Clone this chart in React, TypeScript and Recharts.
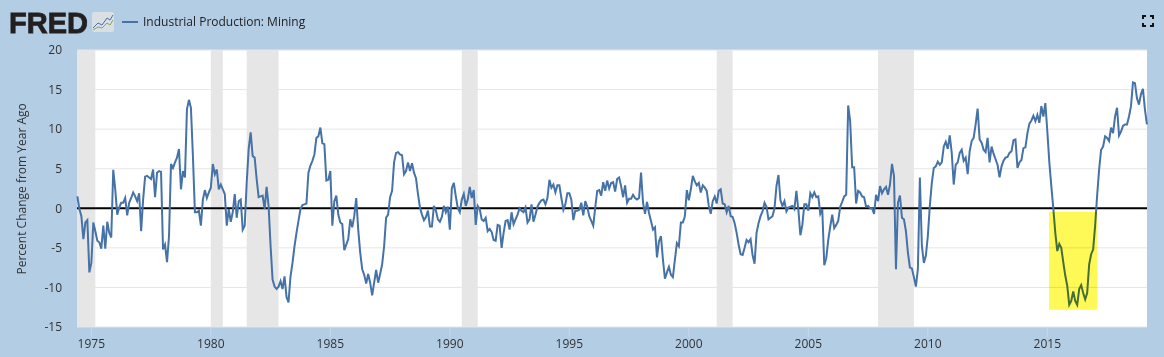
import React from 'react';
import { ComposedChart, Line, XAxis, YAxis, CartesianGrid, ReferenceArea, ReferenceLine } from 'recharts';

// monthly percent change from year ago, starting June 1974
const values1974 = [
  1.5, -0.1, -1, -3.9, -1.8, -1.5, -8.1, -6.9, -1.8, -2.9, -4.1, -4.3, -5.1, -2.2, -5.1, -1.7, -3.1, -3.7, 4.85, 2.4,
  -0.8, 0.1, 0.7, 0.7, 1.3, -0.9, 0.7, 1.3, 2, 1.5, 0.9, 1.9, -2.9, 1.1, 4, 4.1, 3.9, 3.7, 4.9, 1.4,
  4.5, 4.7, 4.6, -5.2, -4.6, -6.8, -3.5, 5.6, 5.1, 5.8, 6.4, 7.5, 2.4, 4.7, 3.9, 12.5, 13.7, 12.7, 6.6, -0.5,
  -0.5, -0.3, -2.2, 1.1, 2.3, 1.3, 2, 2.6, 5.6, 4.3, 4.9, 2.4, 3, 2.4, 1.8, -2.2, -0.1, -1.7, -0.5, 1.8,
  -1.2, 0.9, 1.1, -2.7, -2.2, 3.2, 7.5, 9.6, 6.6, 6.4, 3.7, 1.4, 1.5, 1.6, -0.1, 2.7, 0.3, -4.8, -9, -9.9,
  -10.2, -9.9, -9.2, -10.2, -8.6, -11.2, -11.9, -8.6, -6.9, -4.8, -3.1, -1.6, -0.1, 0.4, 0.5, 0.6, 4.5, 5.4, 6, 6.8,
  8.9, 9.1, 10.2, 8.2, 8.1, 3.5, 3.6, 4.7, -2.2, 0.9, 1.6, -0.8, -1.8, -2, -5.3, -4.6, -3.9, -1.4,
];

const values1985 = [
  -2.4, -1, 1.3, -2.7, -5.6, -7.7, -8.4, -9.5, -8.3, -9.4, -11, -9.4, -7.8, -9.4, -8.3, -7.1, -4.8, -1.2, -0.8, 1.4,
  2.2, 5.8, 7, 7.1, 6.8, 6.7, 4.3, 4.7, 5.8, 4.7, 5.7, 4.5, 3.8, 1.8, 0.1, -0.8, -1.5, -1.1, -0.3, -2.3,
  -2.3, 0.3, -0.3, -1.4, -1.7, -1.1, 0.3, -0.5, 0.2, -2.7, 2.5, 3.2, 1.5, 0, -0.5, 1.1, 1.8, 0.3, 1.1, 2.7,
  1.3, 2.3, -2.1, 0.3, -0.1, -1.4, -1.6, -1.2, -2.9, -2.6, -3, -4, -4.1, -2.1, -2.2, -5, -3.1, -1.6, -1.5, -2.7,
  -0.5, -2, -1.4, -0.8, 0, -0.3, -0.5, 0.1, -1.8, -1.4, 0.5, -1.7, -0.8, 0.2, 0.7, 1, 1.1, 0.5, 1.3, 3.6,
  2.6, 3, 2, 2.9, 2.9, 1.3, -0.2, 0.5, 1.9, 1.9, 1.1, -1.5, -0.3, -0.3, -0.2, 0.7, -0.9, 0.9, 0.2, -1,
  -1.6, -2.2, 0.1, 2.2, 2.3, 1.6, 3.3, 2.2, 3.5, 2.5, 3.2, 3.3, 2.1, 3.7, 3.9,
];

const values1996 = [
  2.8, 1.4, 2.9, 0.7, 1.2, 1.2, 1.7, 1.3, 1.1, 1.3, 4.5, 0.7, -0.7, 0.8, -0.6, -1.6, -2.7, -2.4, -6.2,
  -4.2, -3.5, -6.5, -8.9, -8.1, -7.4, -8.4, -8.7, -6.5, -4.4, -4.8, -1.8, -1.8, -1, 2.3, 1, 2.4, 4.1, 3.4, 2.9,
  3.2, 2, 2.9, 2.6, 2.2, 0.3, -0.7, 0.9, 1.5, 0.6, 2.2, 2.4, 0.6, 0.5, -0.5, 0.3, -1, -1.1, -1.9, -3.1,
  -4.6, -5.8, -5.9, -5, -4, -4.3, -3.9, -5.9, -7, -3.1, -1.9, -1, -0.4, 0.7, 0.2, -1.4, -1.2, -1, 0, 2.8,
  4.2, 1, 0.3, 0.9, -0.4, 0.1, 0.2, 0.3, -0.1, 2.2, -0.2, -3.4, -2.1, 0.5, 0.5, -0.3, 1.9, 1.4, 2, 1.4,
  1.5, -0.7, -0.1, -7.2, -6.3, -4, -2.3, -0.8, -2.5, -2.1, -1.6, 0.2, 0.8, 1.5, 1.7, 13, 11, 5.2, 5.2, 0.6,
  2.2, 2, 1.5, 1.4, 0.2, 0.3, 0, 0, -0.7, 1.7, 0.9, 2.8, 1.9, 2.4, 2.7, 1.7,
];

const values2007 = [
  3, 5.6, 4.1, -7.7, 0.7, 1.6, -1.2, -1.4, -2.9, -5.6, -7.5, -7.6, -8.7, -9.9, -7.7, 3.9, -4.7, -6.9, -6, -3.5,
  0.3, 3.2, 5.1, 5.3, 5.9, 5.5, 5.8, 7.8, 8.4, 7.5, 9.2, 7, 3, 5.5, 5.8, 7, 7.4, 6, 6.4, 4.3,
  7.2, 8.5, 8.9, 10.6, 12.6, 8.7, 8.3, 7.4, 7.1, 8.9, 5.8, 7.8, 6.9, 6.2, 5.5, 3.9, 5.3, 6, 6.4, 6.5,
  7, 7.2, 8.6, 8.7, 5.1, 5.8, 6.1, 7.6, 7.7, 9.5, 10.7, 11.1, 11.7, 11, 11.8, 10.8, 12.9, 11.6, 13.3, 9.7,
  5.8, 2.8, 0, -3.1, -5.4, -4.5, -5, -6.8, -8.5, -9.8, -12.2, -11.7, -10.5, -11.7, -12.2, -10.2, -9.7, -10.7, -11.5, -10.7,
  -7.1, -5.8, -5.2, -2.2, 1.6, 4.9, 7.4, 7.8, 9.1, 8.9, 8.5, 10.2, 9.5, 11.6, 12.7, 9.2, 9.7, 10.4, 10.6, 10.6,
  11.6, 12.9, 15.9, 15.8, 13.9, 13.1, 14.4, 15.1, 12.5, 10.6,
];

const miningValues = [...values1974, ...values1985, ...values1996, ...values2007];
const data = miningValues.map((value, i) => ({ year: 1974 + (5 + i) / 12, value }));

const yearTicks = [1975, 1980, 1985, 1990, 1995, 2000, 2005, 2010, 2015];
const valueTicks = [-15, -10, -5, 0, 5, 10, 15, 20];
const recessions = [
  [1974.4, 1975.167],
  [1980, 1980.5],
  [1981.5, 1982.833],
  [1990.5, 1991.167],
  [2001.167, 2001.833],
  [2007.917, 2009.417],
];

const font = '"Open Sans", sans-serif';

const Logo = () => (
  <div style={{ position: 'absolute', left: 9, top: 8 }}>
    <span style={{ fontFamily: '"Liberation Sans", sans-serif', fontWeight: 700, fontSize: 29, lineHeight: '30px', color: '#231f20', WebkitTextStroke: '0.8px #231f20' }}>FRED</span>
    <svg width={22} height={20} style={{ position: 'absolute', left: 83, top: 4 }}>
      <rect x={0} y={0} width={22} height={20} rx={2} fill="#d9dfe3" />
      <polyline points="1,16 6,11 10,13 15,6 18,8 21,3" fill="none" stroke="#4572a7" strokeWidth={1} />
      <polyline points="1,18 6,15 10,16 15,11 18,13 21,8" fill="none" stroke="#8aa84f" strokeWidth={1} />
    </svg>
  </div>
);

const FullscreenIcon = () => (
  <svg width={12} height={12} style={{ position: 'absolute', left: 1142, top: 15 }}>
    <path d="M1 4V1H4M8 1H11V4M11 8V11H8M4 11H1V8" fill="none" stroke="#111" strokeWidth={2} />
  </svg>
);

export default function App() {
  return (
    <div style={{ position: 'absolute', left: 0, top: 0, width: 1164, height: 357, background: '#b3cde5', overflow: 'hidden' }}>
      <Logo />
      <div style={{ position: 'absolute', left: 122, top: 21, width: 16, height: 2, background: '#4572a7' }} />
      <div style={{ position: 'absolute', left: 143, top: 13, fontFamily: font, fontSize: 12, lineHeight: '17px', color: '#222' }}>
        Industrial Production: Mining
      </div>
      <FullscreenIcon />
      <ComposedChart width={1164} height={357} data={data} margin={{ top: 50, right: 17, bottom: 0, left: 37 }}>
        <CartesianGrid vertical={false} stroke="#e6e6e6" fill="#ffffff" />
        <XAxis
          dataKey="year"
          type="number"
          domain={[1974.4, 2019.17]}
          ticks={yearTicks}
          interval={0}
          height={30}
          tickSize={10}
          tickMargin={2}
          axisLine={false}
          tickLine={{ stroke: '#ccd6eb' }}
          tick={{ fontFamily: font, fontSize: 12, fill: '#333' }}
        />
        <YAxis
          width={40}
          domain={[-15, 20]}
          ticks={valueTicks}
          interval={0}
          tickSize={0}
          tickMargin={15}
          axisLine={false}
          tickLine={false}
          tick={{ fontFamily: font, fontSize: 12, fill: '#333' }}
          label={{ value: 'Percent Change from Year Ago', angle: -90, position: 'insideLeft', dx: -20, dy: 86, style: { fontFamily: font, fontSize: 12, fill: '#333' } }}
        />
        {recessions.map(([start, end]) => (
          <ReferenceArea key={start} x1={start} x2={end} fill="#e6e6e6" fillOpacity={1} stroke="none" />
        ))}
        <ReferenceLine y={0} stroke="#000" strokeWidth={2} />
        <Line type="linear" dataKey="value" stroke="#4572a7" strokeWidth={2} dot={false} isAnimationActive={false} />
        <ReferenceArea {...{ zIndex: 1000 }} x1={2015.07} x2={2017.09} y1={-0.44} y2={-12.83} fill="#fff957" fillOpacity={1} stroke="none" style={{ mixBlendMode: 'multiply' }} />
      </ComposedChart>
    </div>
  );
}
